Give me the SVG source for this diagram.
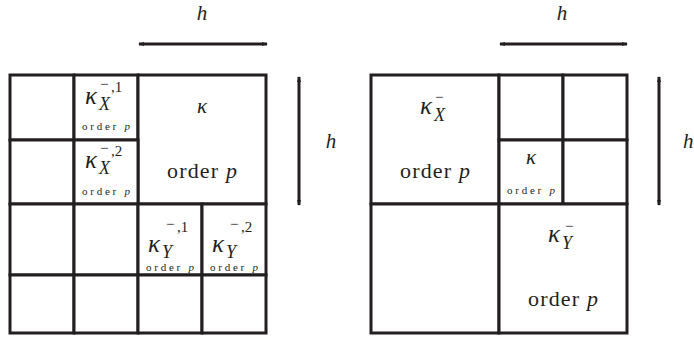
<svg xmlns="http://www.w3.org/2000/svg" width="694" height="338" viewBox="0 0 694 338">
<defs>
<style>
.cell{fill:#fff;stroke:#231f20;stroke-width:3}
.arr{stroke:#231f20;stroke-width:3;fill:none;marker-start:url(#ah);marker-end:url(#ah)}
.t{fill:#231f20}
.it{font-style:italic}
.big{font-size:22px}
.sm{font-size:11px}
.k{font-size:25px;font-style:italic}
.k0{font-size:21px;font-style:italic}
.sub{font-size:18px;font-style:italic}
.sup{font-size:15px;font-style:normal}
.h{font-size:21px;font-style:italic}
</style>
<marker id="ah" viewBox="0 0 6 6" refX="5" refY="3" markerWidth="6" markerHeight="6" markerUnits="userSpaceOnUse" orient="auto-start-reverse">
<path d="M0,1 L6,3 L0,5 Z" fill="#231f20"/>
</marker>
</defs>

<g id="connectors">
<line class="arr" x1="139" y1="44" x2="267" y2="44"/>
<line class="arr" x1="299" y1="77" x2="299" y2="205"/>
<line class="arr" x1="500" y1="44" x2="627" y2="44"/>
<line class="arr" x1="659" y1="77" x2="659" y2="205"/>
</g>

<g id="labels" font-family="Liberation Serif, serif" class="t">
<text class="h" x="202" y="20" text-anchor="middle">h</text>
<text class="h" x="331" y="148" text-anchor="middle">h</text>
<text class="h" x="562" y="20" text-anchor="middle">h</text>
<text class="h" x="683" y="148">h</text>
</g>

<g id="grids" font-family="Liberation Serif, serif" class="t">
<!-- Left grid -->
<g id="L-r1c1"><rect class="cell" x="10" y="75" width="64" height="65"/></g>
<g id="L-kX1">
<rect class="cell" x="74" y="75" width="64" height="65"/>
<text class="k" x="85" y="104">κ<tspan class="sub" x="99" y="110">X</tspan><tspan class="sup" x="100" y="89">−</tspan><tspan class="sup" x="111" y="92">,1</tspan></text>
<text class="sm" x="106" y="130" text-anchor="middle" textLength="48" lengthAdjust="spacing">order <tspan class="it">p</tspan></text>
</g>
<g id="L-k">
<rect class="cell" x="138" y="75" width="128" height="129"/>
<text class="k0" x="202" y="113" text-anchor="middle">κ</text>
<text class="big" x="202" y="178" text-anchor="middle" textLength="70" lengthAdjust="spacing">order <tspan class="it">p</tspan></text>
</g>
<g id="L-r2c1"><rect class="cell" x="10" y="140" width="64" height="64"/></g>
<g id="L-kX2">
<rect class="cell" x="74" y="140" width="64" height="64"/>
<text class="k" x="85" y="168">κ<tspan class="sub" x="99" y="174">X</tspan><tspan class="sup" x="100" y="153">−</tspan><tspan class="sup" x="111" y="156">,2</tspan></text>
<text class="sm" x="106" y="195" text-anchor="middle" textLength="48" lengthAdjust="spacing">order <tspan class="it">p</tspan></text>
</g>
<g id="L-r3c1"><rect class="cell" x="10" y="204" width="64" height="71"/></g>
<g id="L-r3c2"><rect class="cell" x="74" y="204" width="64" height="71"/></g>
<g id="L-kY1">
<rect class="cell" x="138" y="204" width="64" height="71"/>
<text class="k" x="148" y="252">κ<tspan class="sub" x="162" y="258">Y</tspan><tspan class="sup" x="166" y="229">−</tspan><tspan class="sup" x="177" y="232">,1</tspan></text>
<text class="sm" x="170" y="271" text-anchor="middle" textLength="48" lengthAdjust="spacing">order <tspan class="it">p</tspan></text>
</g>
<g id="L-kY2">
<rect class="cell" x="202" y="204" width="64" height="71"/>
<text class="k" x="212" y="252">κ<tspan class="sub" x="226" y="258">Y</tspan><tspan class="sup" x="230" y="229">−</tspan><tspan class="sup" x="241" y="232">,2</tspan></text>
<text class="sm" x="234" y="271" text-anchor="middle" textLength="48" lengthAdjust="spacing">order <tspan class="it">p</tspan></text>
</g>
<g id="L-r4c1"><rect class="cell" x="10" y="275" width="64" height="58"/></g>
<g id="L-r4c2"><rect class="cell" x="74" y="275" width="64" height="58"/></g>
<g id="L-r4c3"><rect class="cell" x="138" y="275" width="64" height="58"/></g>
<g id="L-r4c4"><rect class="cell" x="202" y="275" width="64" height="58"/></g>

<!-- Right grid -->
<g id="R-kX">
<rect class="cell" x="371" y="75" width="128" height="129"/>
<text class="k" x="420" y="114">κ<tspan class="sub" x="434" y="121">X</tspan><tspan class="sup" x="435" y="102">−</tspan></text>
<text class="big" x="435" y="178" text-anchor="middle" textLength="70" lengthAdjust="spacing">order <tspan class="it">p</tspan></text>
</g>
<g id="R-r1c2"><rect class="cell" x="499" y="75" width="64" height="65"/></g>
<g id="R-r1c3"><rect class="cell" x="563" y="75" width="64" height="65"/></g>
<g id="R-k">
<rect class="cell" x="499" y="140" width="64" height="64"/>
<text class="k0" x="531" y="164" text-anchor="middle">κ</text>
<text class="sm" x="531" y="194" text-anchor="middle" textLength="48" lengthAdjust="spacing">order <tspan class="it">p</tspan></text>
</g>
<g id="R-r2c3"><rect class="cell" x="563" y="140" width="64" height="64"/></g>
<g id="R-r3c1"><rect class="cell" x="371" y="204" width="128" height="129"/></g>
<g id="R-kY">
<rect class="cell" x="499" y="204" width="128" height="129"/>
<text class="k" x="548" y="242">κ<tspan class="sub" x="562" y="249">Y</tspan><tspan class="sup" x="565" y="231">−</tspan></text>
<text class="big" x="563" y="306" text-anchor="middle" textLength="70" lengthAdjust="spacing">order <tspan class="it">p</tspan></text>
</g>
</g>
</svg>
